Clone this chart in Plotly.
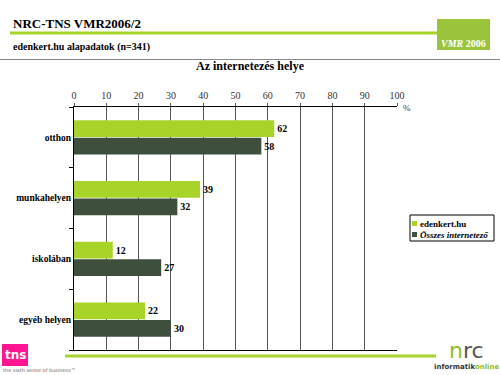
import plotly.graph_objects as go

categories = ["otthon", "munkahelyen", "iskolában", "egyéb helyen"]
edenkert = [62, 39, 12, 22]
osszes = [58, 32, 27, 30]
series_names = ["edenkert.hu", "Összes internetező"]
x_ticks = [0, 10, 20, 30, 40, 50, 60, 70, 80, 90, 100]

GREEN = "#a8d42a"
DARK = "#3e4f3e"
SERIF = "Liberation Serif"

fig = go.Figure()
fig.add_trace(go.Bar(y=categories, x=edenkert, name=series_names[0], orientation="h",
                     marker=dict(color=GREEN, line=dict(width=0)),
                     texttemplate="<b>%{x}</b>", textposition="outside", cliponaxis=False,
                     textfont=dict(family=SERIF, size=10, color="black"), showlegend=False))
fig.add_trace(go.Bar(y=categories, x=osszes, name=series_names[1], orientation="h",
                     marker=dict(color=DARK, line=dict(width=0)),
                     texttemplate="<b>%{x}</b>", textposition="outside", cliponaxis=False,
                     textfont=dict(family=SERIF, size=10, color="black"), showlegend=False))

W, H = 500, 375
L, R, T, B = 74, 103, 107, 25

fig.update_layout(
    width=W, height=H,
    margin=dict(l=L, r=R, t=T, b=B, autoexpand=False),
    paper_bgcolor="white", plot_bgcolor="white",
    barmode="group", bargap=0.42, bargroupgap=0.05,
    showlegend=False,
    font=dict(family=SERIF, color="black"),
    uniformtext=dict(minsize=9, mode="show"),
)
fig.update_xaxes(side="top", range=[0, 100], tickvals=x_ticks, ticktext=[str(v) for v in x_ticks],
                 showgrid=True, gridcolor="#555555", gridwidth=1,
                 showline=True, linecolor="black", linewidth=1, mirror=True,
                 ticks="outside", ticklen=3, tickcolor="#555555", automargin=False,
                 tickfont=dict(family=SERIF, size=10, color="#333333"), zeroline=False,
                 fixedrange=True)
fig.update_yaxes(autorange="reversed", showline=True, linecolor="black", linewidth=1,
                 tickvals=categories, ticktext=["<b>" + c + "</b>" for c in categories],
                 ticks="outside", tickson="boundaries", ticklen=4, tickcolor="black",
                 tickfont=dict(family=SERIF, size=9.5, color="black"), showgrid=False,
                 automargin=False, fixedrange=True)


def px(x):
    return (x - L) / (W - L - R)


def py(y):
    return (H - B - y) / (H - T - B)


shapes = [
    dict(type="line", x0=px(10), x1=px(437), y0=py(33), y1=py(33), line=dict(color=GREEN, width=3)),
    dict(type="line", x0=px(0), x1=px(W), y0=py(59.5), y1=py(59.5), line=dict(color="#888888", width=1)),
    dict(type="line", x0=px(65), x1=px(436), y0=py(356), y1=py(356), line=dict(color=GREEN, width=3)),
    dict(type="rect", x0=px(437), x1=px(490), y0=py(50), y1=py(19), fillcolor="#9cc43a", line=dict(width=0)),
    dict(type="rect", x0=px(2), x1=px(28), y0=py(366), y1=py(344), fillcolor="#ff1493", line=dict(width=0)),
    # legend box and swatches
    dict(type="rect", x0=px(410), x1=px(494), y0=py(241), y1=py(215), fillcolor="white",
         line=dict(color="black", width=1)),
    dict(type="rect", x0=px(412), x1=px(417), y0=py(226), y1=py(221), fillcolor=GREEN, line=dict(width=0)),
    dict(type="rect", x0=px(412), x1=px(417), y0=py(237), y1=py(232), fillcolor=DARK, line=dict(width=0)),
]
for s in shapes:
    s.update(xref="paper", yref="paper")

annotations = [
    dict(text="<b>NRC-TNS VMR2006/2</b>", x=px(11), y=py(24), xanchor="left", yanchor="middle",
         font=dict(family=SERIF, size=13, color="black")),
    dict(text="<b>edenkert.hu alapadatok (n=341)</b>", x=px(11), y=py(47), xanchor="left", yanchor="middle",
         font=dict(family=SERIF, size=10, color="black")),
    dict(text="<b>Az internetezés helye</b>", x=px(250), y=py(66), xanchor="center", yanchor="middle",
         font=dict(family=SERIF, size=12, color="black")),
    dict(text="%", x=px(407), y=py(108), xanchor="center", yanchor="middle",
         font=dict(family=SERIF, size=9, color="#333333")),
    dict(text="<b>" + series_names[0] + "</b>", x=px(418), y=py(223.5), xanchor="left", yanchor="middle",
         font=dict(family=SERIF, size=9, color="black")),
    dict(text="<b><i>" + series_names[1] + "</i></b>", x=px(418), y=py(234.5), xanchor="left", yanchor="middle",
         font=dict(family=SERIF, size=9, color="black")),
    dict(text="<b><i>VMR</i></b> <b>2006</b>", x=px(463), y=py(43), xanchor="center", yanchor="middle",
         font=dict(family=SERIF, size=10, color="white")),
    dict(text="<b>tns</b>", x=px(15), y=py(355), xanchor="center", yanchor="middle",
         font=dict(family="DejaVu Sans", size=12, color="white")),
    dict(text="the sixth sense of business™", x=px(1), y=py(370), xanchor="left", yanchor="middle",
         font=dict(family="DejaVu Sans", size=5, color="#666666")),
    dict(text="<span style='color:#8cc21f'>n</span><span style='color:#555555'>rc</span>", x=px(466), y=py(350),
         xanchor="center", yanchor="middle",
         font=dict(family="DejaVu Sans", size=22, color="#555555")),
    dict(text="<b>informatik</b><span style='color:#8cc21f'><b>online</b></span>", x=px(466), y=py(367),
         xanchor="center", yanchor="middle",
         font=dict(family="DejaVu Sans", size=7, color="#333333")),
]
for a in annotations:
    a.update(xref="paper", yref="paper", showarrow=False)

fig.update_layout(shapes=shapes, annotations=annotations)
fig.write_html("out.html", config={"displayModeBar": False},
               post_script="document.body.style.margin='0';document.body.style.overflow='hidden';")
